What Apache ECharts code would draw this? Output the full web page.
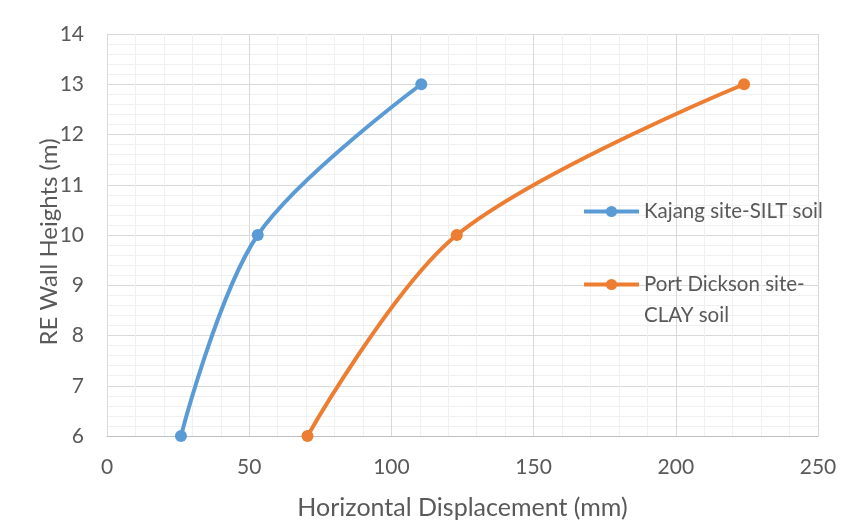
<!DOCTYPE html>
<html>
<head>
<meta charset="utf-8">
<script src="https://cdn.jsdelivr.net/npm/echarts@6/dist/echarts.min.js"></script>
<style>
html,body{margin:0;padding:0;background:#fff;}
#chart{width:843px;height:520px;}
</style>
</head>
<body>
<div id="chart"></div>
<script>
// Wall height vs horizontal displacement at two sites
const heights = [6, 10, 13];
const kajangDisp = [26, 53, 110.5];
const portDicksonDisp = [70.5, 123, 224];
const seriesNames = ['Kajang site-SILT soil', 'Port Dickson site-\nCLAY soil'];
const xTicks = [0, 250, 50];   // min, max, step
const yTicks = [6, 14, 1];

const FONT = 'Lato';
const TXT = '#595959';
const BLUE = '#5B9BD5';
const ORANGE = '#ED7D31';

const chart = echarts.init(document.getElementById('chart'));
const pairs = (xs, ys) => xs.map((x, i) => [x, ys[i]]);

const legendText = { fontFamily: FONT, fontSize: 20.5, color: TXT, lineHeight: 31 };
const legendBase = {
  orient: 'vertical',
  left: 577,
  itemWidth: 55,
  itemHeight: 14,
  itemGap: 0,
  lineStyle: { width: 4 },
  textStyle: legendText
};

chart.setOption({
  animation: false,
  textStyle: { fontFamily: FONT },
  grid: { left: 107, right: 25, top: 34, bottom: 84, outerBoundsMode: 'none' },
  legend: [
    Object.assign({}, legendBase, {
      top: 191,
      data: [seriesNames[0]]
    }),
    // two-line label: a blank leading line keeps the icon beside the first line
    Object.assign({}, legendBase, {
      top: 233,
      formatter: name => ' \n' + name,
      data: [seriesNames[1]]
    })
  ],
  xAxis: {
    type: 'value',
    min: xTicks[0], max: xTicks[1], interval: xTicks[2],
    name: 'Horizontal Displacement (mm)',
    nameLocation: 'middle',
    nameGap: 59,
    nameMoveOverlap: false,
    nameTextStyle: { fontSize: 25, color: TXT, fontFamily: FONT },
    axisLine: { show: true, lineStyle: { color: '#bfbfbf', width: 1 } },
    axisTick: { show: false },
    axisLabel: { fontSize: 21, color: TXT, margin: 21, fontFamily: FONT },
    splitLine: { show: true, lineStyle: { color: '#d9d9d9', width: 1 } },
    minorTick: { show: false, splitNumber: 5 },
    minorSplitLine: { show: true, lineStyle: { color: '#f0f0f0', width: 1 } }
  },
  yAxis: {
    type: 'value',
    min: yTicks[0], max: yTicks[1], interval: yTicks[2],
    name: 'RE Wall Heights (m)',
    nameLocation: 'middle',
    nameGap: 46,
    nameMoveOverlap: false,
    nameTextStyle: { fontSize: 24, color: TXT, fontFamily: FONT, padding: [0, 14, 0, 0] },
    axisLine: { show: true, lineStyle: { color: '#d9d9d9', width: 1 } },
    axisTick: { show: false },
    axisLabel: { fontSize: 21, color: TXT, margin: 23, fontFamily: FONT },
    splitLine: { show: true, lineStyle: { color: '#d9d9d9', width: 1 } },
    minorTick: { show: false, splitNumber: 5 },
    minorSplitLine: { show: true, lineStyle: { color: '#f0f0f0', width: 1 } }
  },
  series: [
    {
      name: seriesNames[0],
      type: 'line',
      smooth: 0.33,
      data: pairs(kajangDisp, heights),
      symbol: 'circle',
      symbolSize: 12,
      lineStyle: { color: BLUE, width: 4 },
      itemStyle: { color: BLUE }
    },
    {
      name: seriesNames[1],
      type: 'line',
      smooth: 0.33,
      data: pairs(portDicksonDisp, heights),
      symbol: 'circle',
      symbolSize: 12,
      lineStyle: { color: ORANGE, width: 4 },
      itemStyle: { color: ORANGE }
    }
  ]
});
</script>
</body>
</html>
